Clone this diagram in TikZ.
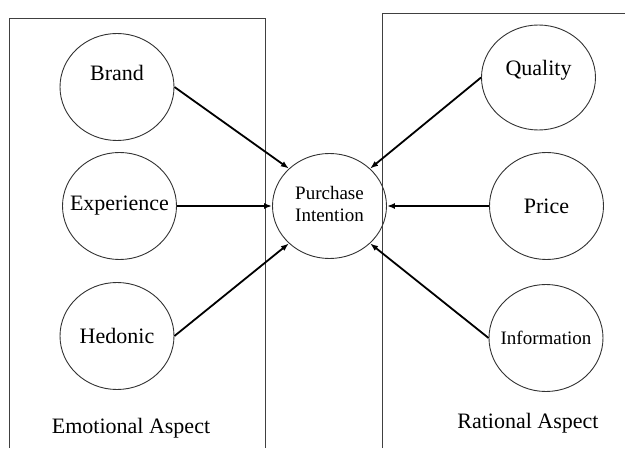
\documentclass[tikz,border=0pt]{standalone}
\usepackage{fontspec}
\setmainfont{Liberation Serif}
\usetikzlibrary{shapes.geometric,arrows.meta}
\begin{document}
\begin{tikzpicture}[x=1pt,y=1pt,
	factor/.style={ellipse,draw=black!80,line width=0.9pt,inner sep=0pt,minimum width=114pt,minimum height=107pt,font=\fontsize{22}{26}\selectfont},
	path/.style={line width=1.8pt,-{Latex[length=8pt,width=6pt]}},
	aspect/.style={font=\fontsize{22}{26}\selectfont}]
	\useasboundingbox (0,0) rectangle (625,448);
	\draw[black!75,line width=0.8pt] (9,0) -- (9,430) -- (265,430) -- (265,0);
	\draw[black!75,line width=0.8pt] (382,0) -- (382,435) -- (625,435);
	\node[factor] (brand) at (117,361) {\makebox[0pt]{\raisebox{14pt}[\height][\depth]{Brand}}};
	\node[factor] (experience) at (119.5,242) {\makebox[0pt]{Experience}};
	\node[factor] (hedonic) at (117,112) {\makebox[0pt]{Hedonic}};
	\node[factor,minimum height=105pt,font=\fontsize{19}{22.5}\selectfont] (intention) at (329.5,242) {\makebox[0pt]{\begin{tabular}{@{}c@{}}Purchase\\Intention\end{tabular}}};
	\node[factor,minimum height=105pt] (quality) at (538.5,370.5) {\makebox[0pt]{\raisebox{7pt}[\height][\depth]{Quality}}};
	\node[factor] (price) at (546.5,242) {\makebox[0pt]{Price}};
	\node[factor,font=\fontsize{19}{22.5}\selectfont] (information) at (546,110) {\makebox[0pt]{Information}};
	\node[aspect] (emotional) at (131,20) {Emotional Aspect};
	\node[aspect] (rational) at (528,25) {Rational Aspect};
	\draw[path] (brand.east) -- (intention.north west);
	\draw[path] (experience.east) -- (intention.west);
	\draw[path] (hedonic.east) -- (intention.south west);
	\draw[path] (quality.west) -- (intention.north east);
	\draw[path] (price.west) -- (intention.east);
	\draw[path] (information.west) -- (intention.south east);
\end{tikzpicture}
\end{document}
